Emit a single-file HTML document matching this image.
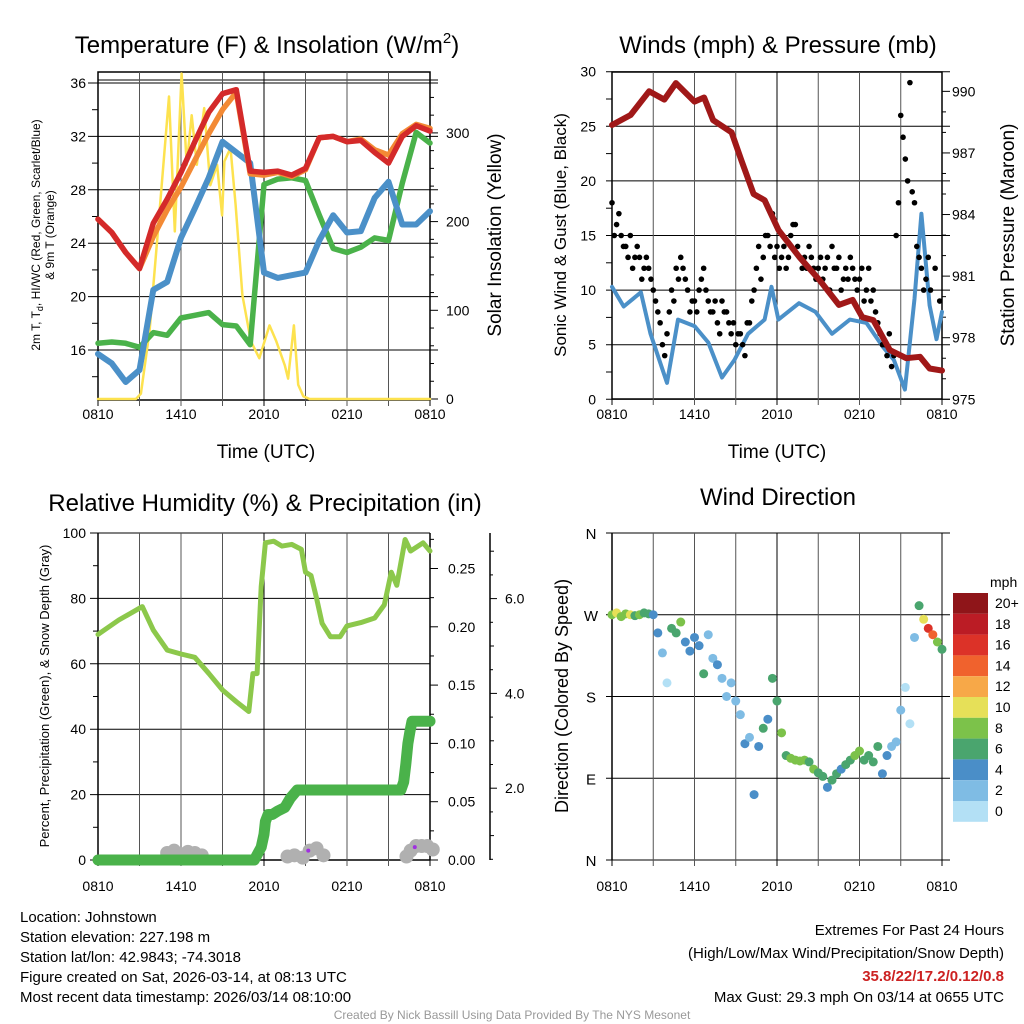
<!DOCTYPE html>
<html><head><meta charset="utf-8">
<style>
html,body{margin:0;padding:0;background:#fff;}
svg{display:block;font-family:"Liberation Sans",Arial,sans-serif;}
</style></head>
<body>
<svg id="s" width="1024" height="1024" viewBox="0 0 1024 1024" xmlns="http://www.w3.org/2000/svg">
<rect width="1024" height="1024" fill="#fff"/>
<g id="p1"></g>
<g id="p2"></g>
<g id="p3"></g>
<g id="p4"></g>

<text x="267" y="53" font-size="24" text-anchor="middle">Temperature (F) &amp; Insolation (W/m<tspan dy="-10" font-size="15">2</tspan><tspan dy="10">)</tspan></text>
<text transform="translate(40,235) rotate(-90)" font-size="12" text-anchor="middle">2m T, T<tspan dy="3" font-size="9">d</tspan><tspan dy="-3">, HI/WC (Red, Green, Scarlet/Blue)</tspan></text>
<text transform="translate(54,235) rotate(-90)" font-size="12" text-anchor="middle">&amp; 9m T (Orange)</text>
<text transform="translate(501,235) rotate(-90)" font-size="19" text-anchor="middle">Solar Insolation (Yellow)</text>
<text x="266" y="458" font-size="19" text-anchor="middle">Time (UTC)</text>

<text x="778" y="53" font-size="24" text-anchor="middle">Winds (mph) &amp; Pressure (mb)</text>
<text transform="translate(566,235) rotate(-90)" font-size="17" text-anchor="middle">Sonic Wind &amp; Gust (Blue, Black)</text>
<text transform="translate(1014,235) rotate(-90)" font-size="19" text-anchor="middle">Station Pressure (Maroon)</text>
<text x="777" y="458" font-size="19" text-anchor="middle">Time (UTC)</text>

<text x="265" y="511" font-size="24" text-anchor="middle">Relative Humidity (%) &amp; Precipitation (in)</text>
<text transform="translate(49,696) rotate(-90)" font-size="13" text-anchor="middle">Percent, Precipitation (Green), &amp; Snow Depth (Gray)</text>

<text x="778" y="505" font-size="24" text-anchor="middle">Wind Direction</text>
<text transform="translate(568,696) rotate(-90)" font-size="18" text-anchor="middle">Direction (Colored By Speed)</text>
<text x="990" y="587" font-size="14">mph</text>

<g font-size="15">
<text x="20" y="922">Location: Johnstown</text>
<text x="20" y="942">Station elevation: 227.198 m</text>
<text x="20" y="962">Station lat/lon: 42.9843; -74.3018</text>
<text x="20" y="982">Figure created on Sat, 2026-03-14, at 08:13 UTC</text>
<text x="20" y="1002">Most recent data timestamp: 2026/03/14 08:10:00</text>
</g>
<g font-size="15" text-anchor="end">
<text x="1004" y="935">Extremes For Past 24 Hours</text>
<text x="1004" y="958">(High/Low/Max Wind/Precipitation/Snow Depth)</text>
<text x="1004" y="981" fill="#cc2222" font-weight="bold">35.8/22/17.2/0.12/0.8</text>
<text x="1004" y="1002">Max Gust: 29.3 mph On 03/14 at 0655 UTC</text>
</g>
<text x="512" y="1019" font-size="12" fill="#999" text-anchor="middle">Created By Nick Bassill Using Data Provided By The NYS Mesonet</text>
</svg>
<script>
// ---- data ----
const hourTicks = ['0810','1410','2010','0210','0810'];
const hourlyT = [0,1,2,3,4,5,6,7,8,9,10,11,12,13,14,15,16,17,18,19,20,21,22,23,24];
const tempRed = [25.8,24.8,23.3,22.1,25.5,27.3,29.3,31.6,33.8,35.2,35.5,29.4,29.3,29.4,29.1,29.6,31.9,32.0,31.6,31.7,30.8,30.0,32.0,32.8,32.4];
const temp9m = [25.8,24.8,23.3,22.1,24.5,26.5,28.2,30.2,32.2,34.0,35.3,29.2,29.1,29.3,29.0,29.5,31.9,32.0,31.6,31.8,31.0,30.6,32.2,32.9,32.6];
const tempBlue = [15.7,15.0,13.6,14.5,20.5,21.1,24.4,26.6,28.9,31.6,30.8,30.0,21.8,21.4,21.6,21.8,24.2,26.1,24.8,24.9,27.4,28.6,25.4,25.4,26.4];
const tempGreen = [16.5,16.6,16.5,16.2,17.3,17.1,18.4,18.6,18.8,17.9,17.8,16.4,28.4,28.8,28.9,28.7,26.1,23.6,23.3,23.7,24.4,24.2,28.5,32.3,31.5];
const solarT = [0,2.74,3.1,3.72,4.33,5.13,5.55,6.04,6.41,6.77,7.14,7.68,8.12,8.61,8.97,9.14,9.58,9.95,10.44,11.05,11.66,12.4,12.89,13.5,13.74,14.16,14.47,14.84,15.3,24];
const solarV = [0,0,6,76,189,341,189,367,264,320,264,328,241,264,207,268,283,219,117,65,46,83,65,38,23,83,16,3,0,0];
const pressT = [0,1.35,2.7,3.8,4.65,6,6.7,7.35,8.7,9.4,10.3,11.1,12.1,13.6,15.1,16.5,17.5,18.2,19,20.2,21.4,22.4,23.1,24];
const pressV = [988.36,988.85,990.0,989.6,990.4,989.5,989.7,988.6,988.0,986.65,985.0,984.7,983.25,981.95,980.8,979.6,979.84,979.0,978.86,977.4,977.0,977.07,976.5,976.4];
const windT = [0,0.85,2.1,2.8,4,4.8,6,7,8,8.9,9.9,11.1,11.6,12.1,13.6,14.8,16,17.3,18.5,19.7,20.5,21.3,22,22.5,22.8,23.1,23.6,24];
const windV = [10.3,8.5,9.8,6,1.5,7.3,6.7,5.2,2,3.6,6,7.3,10.3,7.3,8.8,8,6,7.3,7,4.8,3.6,0.9,9.2,17,12.8,8.6,5.5,8];
const gustV = [18,16,15,14,15,13,13,12,12,10,8,5,6,10,12,13,11,8,9,10,12,9,8,7,9,8,6,5,6,4,7,10,14,13,15,17,14,13,12,15,16,13,13,14,12,12,11,13,14,12,10,12,13,11,11,9,12,10,7,5,4,3,15,26,22,29,18,13,10,13];
const gustV2 = [15,17,14,13,12,14,11,13,11,9,7,4,8,9,11,12,10,9,8,11,10,8,9,6,8,7,7,6,5,7,9,12,11,15,14,13,12,14,13,16,14,12,12,13,11,13,12,10,12,13,11,11,12,10,12,10,9,8,6,5,6,4,18,24,20,19,14,12,11,10,12,9];
const rhT = [0,1.5,3.2,4,5,6,7,8,9,10,10.9,11.2,11.5,11.8,12.1,12.7,13.3,14,14.7,15,15.4,15.8,16.2,16.8,17.5,18,19,20,20.7,21.2,21.6,22.2,22.6,23.5,24];
const rhV = [69,73.4,77.5,70.3,64.2,63,62,57.1,52,48.4,45.4,57,57,83.6,97,97.5,96,96.5,95,88,87,80,72.4,68.3,68.3,71.6,72.6,74,78,88,84,98,94.5,97,94.5];
const precipT = [0,11.3,11.8,12.0,12.1,12.3,12.6,13.0,13.5,13.9,14.4,15,18,21.9,22.1,22.25,22.4,22.55,22.7,24];
const precipV = [0,0,0.011,0.022,0.033,0.039,0.039,0.042,0.045,0.053,0.06,0.06,0.06,0.06,0.067,0.082,0.1,0.11,0.119,0.119];
const snowT = [5,5.5,6,6.5,7,7.5,13.7,14.2,14.8,15.3,15.8,16.3,22.3,22.6,23,23.4,23.8,24.2];
const snowV = [0.006,0.008,0.005,0.007,0.006,0.004,0.003,0.004,0.002,0.008,0.010,0.004,0.003,0.008,0.012,0.012,0.012,0.009];
const dirV = [270,272,268,271,270,269,270,272,271,270,250,228,195,255,250,262,240,230,245,236,205,248,222,215,200,180,195,175,160,128,135,72,125,145,155,200,175,140,115,112,110,109,110,108,100,96,92,80,88,95,100,105,110,115,120,110,115,108,125,95,115,125,130,165,190,150,245,280,265,255,248,240,232];
const dirSpeed = [9,10,9,8,10,7,9,6,7,4,4,2,1,7,6,8,4,4,4,4,6,3,2,4,3,2,3,2,3,4,2,4,5,6,5,7,6,8,7,8,8,8,8,7,8,6,6,5,6,7,5,6,7,8,8,6,6,6,6,4,4,3,2,3,1,1,3,7,10,16,15,9,6];
const barLabels = ['20+','18','16','14','12','10','8','6','4','2','0'];
const barColors = ['#8f1519','#bb1c25','#dc3228','#f0622d','#f7a848','#e6e058','#7cc24a','#4aa56e','#4a8ec8','#7fbce4','#b3e0f5'];

// ---- scales ----
const NS='http://www.w3.org/2000/svg';
const xL=t=>98+t*332/24, xR=t=>612+t*330/24;
const yT=v=>350-(v-16)*13.35, yS=v=>399-v*0.887;
const yW=v=>399.3-v*10.92, yP=p=>399.3-(p-975)*20.53;
const yRH=v=>860-v*3.27, yPr=p=>860-p*1166;
const yD=d=>860-d*327/360;
function mk(g,tag,at){const e=document.createElementNS(NS,tag);for(const k in at)e.setAttribute(k,at[k]);g.appendChild(e);return e;}
function ln(g,x1,y1,x2,y2,c,w){return mk(g,'line',{x1,y1,x2,y2,stroke:c||'#000','stroke-width':w||1});}
function tx(g,x,y,s,size,anchor){const e=mk(g,'text',{x,y,'font-size':size||14,'text-anchor':anchor||'middle'});e.textContent=s;return e;}
function path(g,ts,vs,fx,fy,c,w){let d='';ts.forEach((t,i)=>{d+=(i?'L':'M')+fx(t).toFixed(1)+','+fy(vs[i]).toFixed(1);});return mk(g,'path',{d,fill:'none',stroke:c,'stroke-width':w,'stroke-linejoin':'round','stroke-linecap':'round'});}
function xAxis(g,fx,y0,y1,labelY){for(let k=0;k<=8;k++){const x=fx(k*3);ln(g,x,y0,x,y1+6,k%4==0?'#000':'#555',1);}
 hourTicks.forEach((s,i)=>{const l=tx(g,fx(i*6),labelY,s,14);});}

// ---- panel 1 ----
const p1=document.getElementById('p1');
mk(p1,'rect',{x:98,y:72,width:332,height:328,fill:'none',stroke:'#000','stroke-width':1.5});
[16,20,24,28,32,36].forEach(v=>{ln(p1,88,yT(v),438,yT(v),'#000',1);const l=tx(p1,86,yT(v)+5,String(v),14,'end');});
[14,18,22,26,30,34].forEach(v=>ln(p1,92,yT(v),98,yT(v)));
ln(p1,98,80,438,80);
[0,100,200,300].forEach(v=>{ln(p1,430,yS(v),438,yS(v));const l=tx(p1,446,yS(v)+5,String(v),14,'start');});
[20,40,60,80,120,140,160,180,220,240,260,280,320,340].forEach(v=>ln(p1,430,yS(v),434,yS(v)));
xAxis(p1,xL,72,400,419);
const ys=path(p1,solarT,solarV,xL,yS,'#fde24f',2.5);


const gl=path(p1,hourlyT,tempGreen,xL,yT,'#4ab24a',5.5);


const bl=path(p1,hourlyT,tempBlue,xL,yT,'#4b90c8',6);


const ol=path(p1,hourlyT,temp9m,xL,yT,'#f38a35',5.5);


const rl=path(p1,hourlyT,tempRed,xL,yT,'#d42a2a',5.5);



// ---- panel 2 ----
const p2=document.getElementById('p2');
mk(p2,'rect',{x:612,y:72,width:330,height:327,fill:'none',stroke:'#000','stroke-width':1.5});
[0,5,10,15,20,25,30].forEach(v=>{ln(p2,606,yW(v),950,yW(v));const l=tx(p2,596,yW(v)+5,String(v),14,'end');});
[2.5,7.5,12.5,17.5,22.5,27.5].forEach(v=>ln(p2,606,yW(v),612,yW(v)));
[975,978,981,984,987,990].forEach(v=>{ln(p2,942,yP(v),950,yP(v));const l=tx(p2,952,yP(v)+5,String(v),14,'start');});
[976,977,979,980,982,983,985,986,988,989].forEach(v=>ln(p2,942,yP(v),946,yP(v)));
xAxis(p2,xR,72,399,419);
const wl=path(p2,windT,windV,xR,yW,'#4b90c8',4);


gustV.forEach((v,i)=>{const c=mk(p2,'circle',{cx:xR(i/3),cy:yW(v),r:2.8,fill:'#000'});
 
 });
gustV2.forEach((v,i)=>{const c=mk(p2,'circle',{cx:xR(i/3+1/6),cy:yW(v),r:2.8,fill:'#000'});
 
 });
const pl=path(p2,pressT,pressV,xR,yP,'#a01818',6);



// ---- panel 3 ----
const p3=document.getElementById('p3');
ln(p3,98,533,98,860,'#000',1.5);ln(p3,98,860,430,860,'#000',1.5);ln(p3,430,533,430,860,'#000',1.5);ln(p3,98,533,430,533,'#000',1);
[0,20,40,60,80,100].forEach(v=>{ln(p3,90,yRH(v),430,yRH(v));const l=tx(p3,86,yRH(v)+5,String(v),14,'end');});
[10,30,50,70,90].forEach(v=>ln(p3,93,yRH(v),98,yRH(v)));
[0,0.05,0.1,0.15,0.2,0.25].forEach(v=>{ln(p3,430,yPr(v),438,yPr(v));const l=tx(p3,448,yPr(v)+5,v.toFixed(2),14,'start');});
[0.025,0.075,0.125,0.175,0.225,0.275].forEach(v=>ln(p3,430,yPr(v),434,yPr(v)));
ln(p3,490,533,490,860,'#000',1.5);
[2,4,6].forEach(v=>{const y=883-v*47.4;ln(p3,490,y,497,y);const l=tx(p3,505,y+5,v.toFixed(1),14,'start');});
[1,3,5,7].forEach(v=>{const y=883-v*47.4;ln(p3,490,y,494,y);});
[0.5,1.5,2.5,3.5,4.5,5.5,6.5].forEach(v=>{const y=883-v*47.4;ln(p3,490,y,493,y);});
xAxis(p3,xL,533,860,891);
snowT.forEach((t,i)=>{const c=mk(p3,'circle',{cx:xL(t),cy:yPr(snowV[i]),r:7,fill:'#b0b0b0'});
 
 });
const rhl=path(p3,rhT,rhV,xL,yRH,'#8cc84b',5);


const prl=path(p3,precipT,precipV,xL,yPr,'#4ab24a',11);


[[15.2,0.008],[22.9,0.011]].forEach(p=>{const c=mk(p3,'circle',{cx:xL(p[0]),cy:yPr(p[1]),r:2,fill:'#a030e0'});
 
 });

// ---- panel 4 ----
const p4=document.getElementById('p4');
[0,90,180,270,360].forEach(v=>ln(p4,606,yD(v),950,yD(v)));
ln(p4,612,533,612,860,'#000',1.5);
xAxis(p4,xR,533,860,891);
['N','E','S','W','N'].forEach((s,i)=>{const l=tx(p4,591,yD(i*90)+6,s,15);});
dirV.forEach((d,i)=>{const b=Math.min(10,Math.floor(dirSpeed[i]/2));const c=mk(p4,'circle',{cx:xR(i/3),cy:yD(d),r:4.5,fill:barColors[10-b]});
 
 });
barLabels.forEach((s,i)=>{const y=593+i*20.8;const r=mk(p4,'rect',{x:953,y:y,width:35,height:20.8,fill:barColors[i]});
 
 
 const l=tx(p4,995,y+15,s,14,'start');
 
 });
</script>
</body></html>
